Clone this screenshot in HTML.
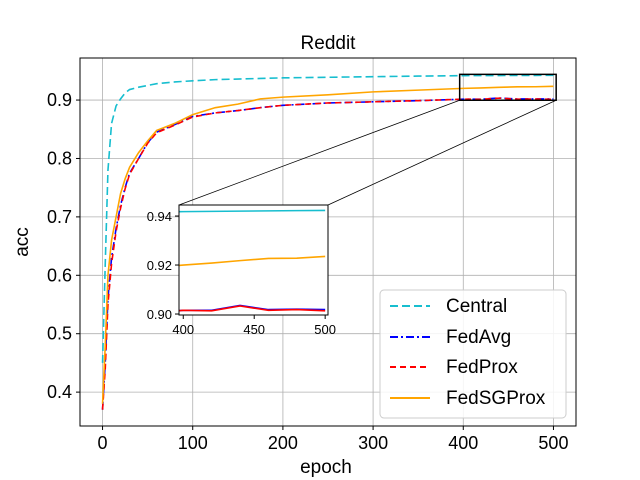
<!DOCTYPE html>
<html><head><meta charset="utf-8"><style>
html,body{margin:0;padding:0;background:#fff;width:640px;height:480px;overflow:hidden;position:relative}
svg{display:block;overflow:hidden}
text{font-family:"Liberation Sans","DejaVu Sans",sans-serif}
</style></head><body>
<svg id="c" width="640" height="480" style="position:absolute;left:0;top:0" xmlns="http://www.w3.org/2000/svg"></svg>
<script>
const epochs=[0,3,6,10,15,20,25,30,40,50,60,80,100,125,150,175,200,250,300,350,400,420,440,460,480,500];
const central=[0.45,0.62,0.78,0.86,0.89,0.902,0.912,0.918,0.922,0.925,0.928,0.931,0.933,0.935,0.936,0.937,0.938,0.939,0.940,0.941,0.9418,0.9419,0.942,0.9421,0.9422,0.9423];
const fedavg=[0.37,0.45,0.56,0.63,0.68,0.72,0.75,0.775,0.80,0.827,0.845,0.858,0.872,0.878,0.882,0.887,0.891,0.895,0.897,0.899,0.9015,0.9015,0.9035,0.9018,0.902,0.9018];
const fedprox=[0.37,0.44,0.55,0.62,0.675,0.715,0.748,0.773,0.80,0.826,0.844,0.857,0.871,0.878,0.882,0.887,0.891,0.895,0.897,0.899,0.9015,0.9013,0.9033,0.9015,0.9018,0.9013];
const fedsg=[0.38,0.48,0.60,0.66,0.70,0.74,0.765,0.785,0.81,0.83,0.848,0.86,0.875,0.887,0.893,0.902,0.905,0.909,0.914,0.917,0.920,0.9208,0.9218,0.9227,0.9228,0.9235];
const xticks=[0,100,200,300,400,500];
const yticks=[0.4,0.5,0.6,0.7,0.8,0.9];
const ixticks=[400,450,500];
const iyticks=[0.90,0.92,0.94];
const series=[["central",central,"#17becf","8,4"],["fedavg",fedavg,"#0000ff","8,3,2,3"],["fedprox",fedprox,"#ff0000","6,4"],["fedsgprox",fedsg,"#ffa500",""]];
const svg=document.getElementById('c');const NS="http://www.w3.org/2000/svg";
function mk(t,a,p){const e=document.createElementNS(NS,t);for(const k in a)e.setAttribute(k,a[k]);(p||svg).appendChild(e);return e;}
const L=80,R=576,T=58,B=426;
const X=v=>L+(v+25)/550*(R-L);
const Y=v=>B-(v-0.342)/(0.972-0.342)*(B-T);
let g=mk('g',{});


xticks.forEach(t=>{mk('line',{x1:X(t),x2:X(t),y1:T,y2:B,stroke:'#b0b0b0','stroke-width':0.8},g);
 const tx=mk('text',{x:X(t),y:B+23,'font-size':18,'text-anchor':'middle'});tx.textContent=t;
 
 mk('line',{x1:X(t),x2:X(t),y1:B,y2:B+4,stroke:'#000'});});
yticks.forEach(t=>{mk('line',{x1:L,x2:R,y1:Y(t),y2:Y(t),stroke:'#b0b0b0','stroke-width':0.8},g);
 const tx=mk('text',{x:L-8,y:Y(t)+6,'font-size':18,'text-anchor':'end'});tx.textContent=t.toFixed(1);
 
 mk('line',{x1:L-4,x2:L,y1:Y(t),y2:Y(t),stroke:'#000'});});
series.forEach(s=>{const p=mk('polyline',{points:epochs.map((e,i)=>X(e)+','+Y(s[1][i])).join(' '),fill:'none',stroke:s[2],'stroke-width':1.6,'stroke-dasharray':s[3]});
 });
const zx0=396,zx1=503,zy0=0.8997,zy1=0.944;
const zr=mk('rect',{x:X(zx0),y:Y(zy1),width:X(zx1)-X(zx0),height:Y(zy0)-Y(zy1),fill:'none',stroke:'#000','stroke-width':1.5});

const IL=179,IR=328,IT=205,IB=315;
mk('line',{x1:IL,y1:IT,x2:X(zx0),y2:Y(zy0),stroke:'#000','stroke-width':0.8});
mk('line',{x1:IR,y1:IT,x2:X(zx1),y2:Y(zy0),stroke:'#000','stroke-width':0.8});
const frame=mk('rect',{x:L,y:T,width:R-L,height:B-T,fill:'none',stroke:'#000','stroke-width':1});

const ig=mk('g',{});

mk('rect',{x:IL,y:IT,width:IR-IL,height:IB-IT,fill:'#fff'},ig);
const IX=v=>IL+(v-397)/105*(IR-IL);
const IY=v=>IB-(v-0.8996)/(0.9445-0.8996)*(IB-IT);
const cp=mk('clipPath',{id:'ic'},ig);
mk('rect',{x:IL,y:IT,width:IR-IL,height:IB-IT},cp);
series.forEach(s=>{const p=mk('polyline',{points:epochs.map((e,i)=>IX(e)+','+IY(s[1][i])).join(' '),fill:'none',stroke:s[2],'stroke-width':1.6,'clip-path':'url(#ic)'},ig);
 });
mk('rect',{x:IL,y:IT,width:IR-IL,height:IB-IT,fill:'none',stroke:'#000','stroke-width':1},ig);
ixticks.forEach(t=>{mk('line',{x1:IX(t),x2:IX(t),y1:IB,y2:IB+4,stroke:'#000'},ig);
 const tx=mk('text',{x:IX(t),y:IB+19,'font-size':13,'text-anchor':'middle'},ig);tx.textContent=t;
 });
iyticks.forEach(t=>{mk('line',{x1:IL-4,x2:IL,y1:IY(t),y2:IY(t),stroke:'#000'},ig);
 const tx=mk('text',{x:IL-7,y:IY(t)+5,'font-size':13,'text-anchor':'end'},ig);tx.textContent=t.toFixed(2);
 });
</script>
<svg width="640" height="480" style="position:absolute;left:0;top:0" xmlns="http://www.w3.org/2000/svg">
<text x="328" y="49" font-size="19" text-anchor="middle">Reddit</text>
<text x="326" y="473" font-size="19" text-anchor="middle">epoch</text>
<text x="0" y="0" font-size="19" text-anchor="middle" transform="translate(28,242) rotate(-90)">acc</text>
<g>
<rect x="380" y="290" width="186" height="128" rx="4" fill="#fff" fill-opacity="0.85" stroke="#ccc"/>
<g><line x1="390" x2="430" y1="306" y2="306" stroke="#17becf" stroke-width="2" stroke-dasharray="8,4"/><text x="446" y="312" font-size="19">Central</text></g>
<g><line x1="390" x2="430" y1="337" y2="337" stroke="#0000ff" stroke-width="2" stroke-dasharray="8,3,2,3"/><text x="446" y="343" font-size="19">FedAvg</text></g>
<g><line x1="390" x2="430" y1="367" y2="367" stroke="#ff0000" stroke-width="2" stroke-dasharray="6,4"/><text x="446" y="373" font-size="19">FedProx</text></g>
<g><line x1="390" x2="430" y1="398" y2="398" stroke="#ffa500" stroke-width="2"/><text x="446" y="404" font-size="19">FedSGProx</text></g>
</g>
</svg>
</body></html>
